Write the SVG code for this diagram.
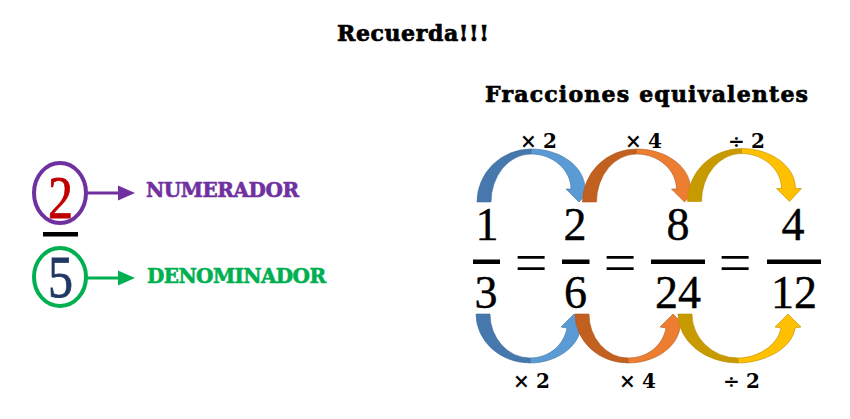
<svg xmlns="http://www.w3.org/2000/svg" width="850" height="419" viewBox="0 0 850 419">
<style>
.title{font-family:"DejaVu Serif",serif;font-weight:bold;font-size:22px;fill:#000;stroke:#000;stroke-width:0.7}
.lab{font-family:"DejaVu Serif",serif;font-weight:bold;font-size:20px;stroke-width:0.6}
.dig{font-family:"Liberation Serif",serif;font-size:46px;fill:#000;text-anchor:middle;stroke:#000;stroke-width:0.4}
.eq{font-family:"Liberation Serif",serif;font-size:58px;fill:#000;text-anchor:middle}
.op{font-family:"DejaVu Serif",serif;font-weight:bold;font-size:20px;fill:#000}
.bd{fill:#4677AD;stroke:#41719C;stroke-width:0.6}
.bl{fill:#5B9BD5;stroke:#41719C;stroke-width:0.6}
.od{fill:#C1601F;stroke:#AE5A21;stroke-width:0.6}
.ol{fill:#ED7D31;stroke:#AE5A21;stroke-width:0.6}
.gd{fill:#C79A00;stroke:#BC8C00;stroke-width:0.6}
.gl{fill:#FFC000;stroke:#BC8C00;stroke-width:0.6}
</style>
<rect width="850" height="419" fill="#fff"/>
<text class="title" x="337" y="41" textLength="152">Recuerda!!!</text>

<g id="numerador">
<ellipse cx="60" cy="193" rx="26" ry="30" fill="none" stroke="#7030A0" stroke-width="4"/>
<text x="48" y="218" font-family="Liberation Serif,serif" font-size="62" fill="#C00000" stroke="#C00000" stroke-width="0.8" textLength="25" lengthAdjust="spacingAndGlyphs">2</text>
<text class="lab" x="146" y="197" fill="#7030A0" stroke="#7030A0" textLength="153">NUMERADOR</text>
</g>
<rect id="barra" x="43" y="232" width="35" height="4.5" fill="#000"/>
<g id="denominador">
<ellipse cx="60" cy="277" rx="26" ry="29" fill="none" stroke="#00B050" stroke-width="4"/>
<text x="48" y="297" font-family="Liberation Serif,serif" font-size="59" fill="#1F3864" stroke="#1F3864" stroke-width="0.8" textLength="25" lengthAdjust="spacingAndGlyphs">5</text>
<text class="lab" x="147" y="283" fill="#00B050" stroke="#00B050" textLength="179">DENOMINADOR</text>
</g>

<g id="connectors">
<line x1="87" y1="193" x2="120" y2="193" stroke="#7030A0" stroke-width="3"/>
<polygon points="118,185.5 135,193 118,200.5" fill="#7030A0"/>
<line x1="87" y1="278" x2="120" y2="278" stroke="#00B050" stroke-width="3"/>
<polygon points="118,270.5 135,278 118,285.5" fill="#00B050"/>
</g>

<text class="title" x="485" y="102" textLength="323">Fracciones equivalentes</text>

<g id="fracciones">
<text class="dig" x="487" y="240">1</text>
<rect x="473" y="259.5" width="27" height="4.5"/>
<text class="dig" x="486" y="308">3</text>
<text class="eq" x="531" y="282">=</text>
<text class="dig" x="575" y="240">2</text>
<rect x="562" y="259.5" width="27.5" height="4.5"/>
<text class="dig" x="575.5" y="308">6</text>
<text class="eq" x="620" y="282">=</text>
<text class="dig" x="678" y="240">8</text>
<rect x="651" y="259.5" width="54" height="4.5"/>
<text class="dig" x="678" y="308">24</text>
<text class="eq" x="735" y="282">=</text>
<text class="dig" x="793" y="240">4</text>
<rect x="767" y="259.5" width="54" height="4.5"/>
<text class="dig" x="794" y="308">12</text>
</g>

<g id="flechas-arriba">
<g id="ta1">
<path class="bd" d="M477,202 A54 53 0 0 1 531,149 L531,154 A40 48 0 0 0 491,202 Z"/>
<path class="bl" d="M531,149 C561,149 585,167 585,189 L591,189 L579,202 L566,189 L571,189 C571,170 553,154 531,154 Z"/>
</g>
<g id="ta2" transform="translate(105.5,0)">
<path class="od" d="M477,202 A54 53 0 0 1 531,149 L531,154 A40 48 0 0 0 491,202 Z"/>
<path class="ol" d="M531,149 C561,149 585,167 585,189 L591,189 L579,202 L566,189 L571,189 C571,170 553,154 531,154 Z"/>
</g>
<g id="ta3" transform="translate(210.5,-0.5)">
<path class="gd" d="M477,202 A54 53 0 0 1 531,149 L531,154 A40 48 0 0 0 491,202 Z"/>
<path class="gl" d="M531,149 C561,149 585,167 585,189 L591,189 L579,202 L566,189 L571,189 C571,170 553,154 531,154 Z"/>
</g>
</g>

<g id="flechas-abajo">
<g id="tb1">
<path class="bd" d="M476,314 A54 49 0 0 0 530,363 L530,358 A40 44 0 0 1 490,314 Z"/>
<path class="bl" d="M530,363 C553,363 577,350 581,328 L586,326 L574,314 L561,327 L567,328 C564,345 549,358 530,358 Z"/>
</g>
<g id="tb2">
<path class="od" d="M575,314 A53 49 0 0 0 628,363 L628,358 A39 44 0 0 1 589,314 Z"/>
<path class="ol" d="M628,363 C652,363 676,350 680,328 L685,326 L673,314 L660,327 L666,328 C663,345 648,358 628,358 Z"/>
</g>
<g id="tb3">
<path class="gd" d="M678,314 A60 49 0 0 0 738,363 L738,358 A46 44 0 0 1 692,314 Z"/>
<path class="gl" d="M738,363 C762,363 792,350 795,328 L801,327 L788,314 L775,327 L781,328 C778,345 758,358 738,358 Z"/>
</g>
</g>

<g id="operaciones">
<text class="op" x="520" y="148" textLength="37">× 2</text>
<text class="op" x="625" y="148" textLength="37">× 4</text>
<text class="op" x="728" y="148" textLength="37">÷ 2</text>
<text class="op" x="513" y="388" textLength="37">× 2</text>
<text class="op" x="619" y="388" textLength="37">× 4</text>
<text class="op" x="723" y="388" textLength="37">÷ 2</text>
</g>
</svg>
